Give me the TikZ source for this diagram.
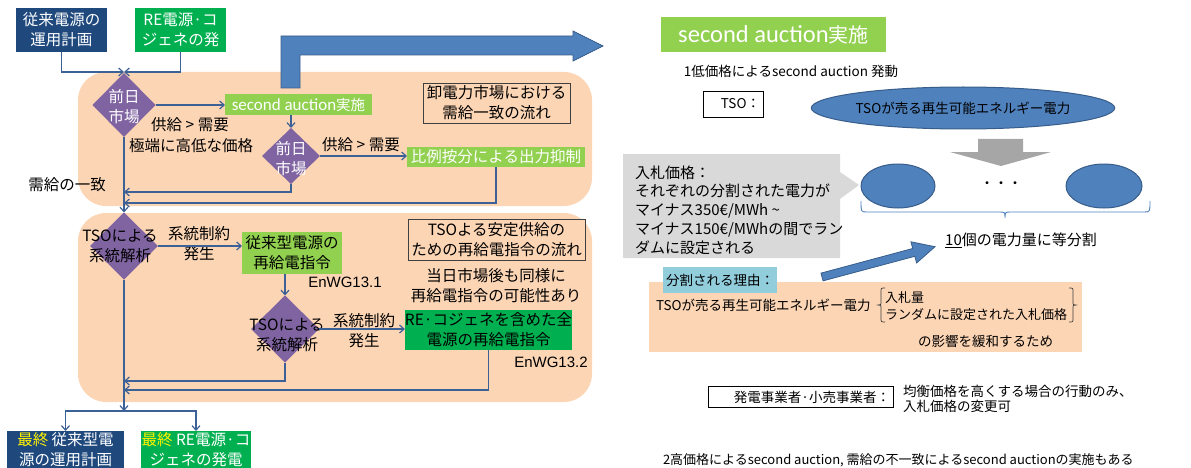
\documentclass[tikz,border=0pt]{standalone}
\usepackage{fontspec}
\setmainfont{Noto Sans CJK JP}
\newfontfamily\carlfont{Carlito}
\newfontfamily\arialfont{Liberation Sans}
\usetikzlibrary{shapes.geometric,arrows.meta}
\definecolor{dblue}{HTML}{1F497D}
\definecolor{rgreen}{HTML}{00B050}
\definecolor{lgreen}{HTML}{92D050}
\definecolor{purp}{HTML}{8064A2}
\definecolor{peach}{HTML}{FCD5B5}
\definecolor{lnblue}{HTML}{3B6196}
\definecolor{arrblue}{HTML}{4F81BD}
\definecolor{arredge}{HTML}{385D8A}
\definecolor{cgray}{HTML}{D9D9D9}
\definecolor{agray}{HTML}{A6A6A6}
\definecolor{lblue}{HTML}{92CDDC}
\definecolor{frmcol}{HTML}{404040}
\newcommand\fszL{\fontsize{15.5}{20}\selectfont}
\newcommand\fszR{\fontsize{13.5}{16}\selectfont}
\begin{document}
\begin{tikzpicture}[x=1pt,y=-1pt,
  every node/.style={inner sep=0pt, outer sep=0pt},
  fbox/.style={inner sep=0pt, align=center, font=\fszL},
  dia/.style={diamond, fill=purp, inner sep=0pt},
  conn/.style={draw=lnblue, line width=1.2pt, -{Straight Barb[length=4.5pt,width=8pt]}},
  lbl/.style={font=\fszL, align=center, text=black},
  frm/.style={draw=frmcol, line width=0.9pt, fill=peach, align=center, font=\fszL},
  rtxt/.style={font=\fszR, text=black},
]
\useasboundingbox (0,0) rectangle (1191,468);
\begin{scope}
\clip (0,0) rectangle (1191,468);
% ---------- left panel backgrounds
\fill[peach, rounded corners=28pt] (78,72) rectangle (592,206);
\fill[peach, rounded corners=28pt] (78,213) rectangle (592,402);
% big L arrow
\filldraw[fill=arrblue, draw=arredge, line width=0.8pt] (281,88) -- (281,36) -- (573,36) -- (573,31) -- (603,46) -- (573,61) -- (573,55) -- (300,55) -- (300,88) -- cycle;

% ---------- left panel nodes
\node[fbox, fill=dblue, text=white, minimum width=91pt, minimum height=44pt] (b1) at (61.5,30) {従来電源の\\運用計画};
\node[fbox, fill=rgreen, text=white, minimum width=91pt, minimum height=44pt] (b2) at (180.5,30) {RE電源·コ\\ジェネの発};
\coordinate (m1) at (124,72);
\node[dia, minimum width=63pt, minimum height=64pt] (d1) at (124,105) {};
\node[lbl, text=white] (d1t) at (124,107) {前日\\市場};
\node[fbox, fill=lgreen, text=white, minimum width=147pt, minimum height=21pt] (sa1) at (298.5,104.5) {{\carlfont\fontsize{17}{17}\selectfont second auction}{\fontsize{14.5}{17}\selectfont 実施}};
\node[lbl] (l1) at (190,125) {供給 > 需要};
\node[lbl] (l2) at (191,146) {極端に高低な価格};
\node[dia, minimum width=58pt, minimum height=56pt] (d2) at (291,156) {};
\node[lbl, text=white] (d2t) at (291,159) {前日\\市場};
\node[lbl] (l3) at (361,145) {供給 > 需要};
\node[fbox, fill=lgreen, text=white, minimum width=178pt, minimum height=20pt] (hp) at (496,157) {比例按分による出力抑制};
\node[lbl] (l0) at (67,185) {需給の一致};
\node[frm, minimum width=147pt, minimum height=40pt] (fr1) at (496.5,103) {卸電力市場における\\需給一致の流れ};
\coordinate (c1) at (124,192);
\coordinate (c2) at (124,203);

\node[dia, minimum width=68pt, minimum height=67pt] (d3) at (124,246) {};
\node[lbl] (d3t) at (120,246) {TSOによる\\系統解析};
\node[lbl] (l4) at (199,244) {系統制約\\発生};
\node[fbox, fill=lgreen, text=black, minimum width=100pt, minimum height=42pt] (jr) at (292,253) {従来型電源の\\再給電指令};
\node[lbl, font=\arialfont\fontsize{15}{18}\selectfont] (en1) at (345,282) {EnWG13.1};
\node[frm, minimum width=177pt, minimum height=41pt] (fr2) at (496.5,239.5) {TSOよる安定供給の\\ための再給電指令の流れ};
\node[lbl] (note) at (496,286) {当日市場後も同様に\\再給電指令の可能性あり};
\node[dia, minimum width=68pt, minimum height=67pt] (d4) at (285,329) {};
\node[lbl] (d4t) at (287,335) {TSOによる\\系統解析};
\node[lbl] (l5) at (364,331) {系統制約\\発生};
\node[fbox, fill=rgreen, text=black, minimum width=163pt, minimum height=40pt] (re) at (488.5,330) {RE·コジェネを含めた全\\電源の再給電指令};
\node[lbl, font=\arialfont\fontsize{15}{18}\selectfont] (en2) at (551,362) {EnWG13.2};
\coordinate (c3) at (124,381);
\coordinate (c4) at (124,390);
\coordinate (m2) at (124,411);
\node[fill=dblue, minimum width=117pt, minimum height=46pt] (f1) at (65.5,454) {};
\node[fbox, text=white, anchor=north] (f1t) at (65.5,432) {\textcolor{yellow}{最終} 従来型電\\源の運用計画};
\node[fill=rgreen, minimum width=110pt, minimum height=46pt] (f2) at (196,454) {};
\node[fbox, text=white, anchor=north] (f2t) at (196,432) {\textcolor{yellow}{最終} RE電源·コ\\ジェネの発電};

% ---------- left connectors
\draw[conn] (b1.south) |- (m1);
\draw[conn] (b2.south) |- (m1);
\draw[conn] (d1.east) -- (d1.east -| sa1.west);
\draw[conn] (sa1.south -| d2.north) -- (d2.north);
\draw[conn] (d2.east) -- (d2.east -| hp.west);
\draw[conn] (d2.south) |- (c1);
\draw[conn] (hp.south) |- (c2);
\draw[conn] (d1.south) -- (d3.north);
\draw[conn] (d3.east) -- (d3.east -| jr.west);
\draw[conn] (jr.south -| d4.north) -- (d4.north);
\draw[conn] (d4.east) -- (d4.east -| re.west);
\draw[conn] (d4.south) |- (c3);
\draw[conn] (re.south) |- (c4);
\draw[conn] (d3.south) -- (m2);
\draw[conn] (m2) -| (f1.north);
\draw[conn] (m2) -| (f2.north);

% ---------- right panel
\node[fill=lgreen, text=white, minimum width=225pt, minimum height=35pt] (sa2) at (773.5,34.5) {{\carlfont\fontsize{24.5}{26}\selectfont second auction}{\fontsize{20}{24}\selectfont 実施}};
\node[rtxt] (t1) at (791,71) {1低価格によるsecond auction 発動};
\node[draw=black, line width=0.8pt, minimum width=60pt, minimum height=26pt] (tso) at (733,104) {};
\node[rtxt, anchor=east] (tsot) at (760,104) {TSO：};
\node[ellipse, fill=arrblue, draw=arredge, line width=1pt, minimum width=270pt, minimum height=42pt, rtxt] (el1) at (963,108) {TSOが売る再生可能エネルギー電力};
\fill[agray] (978,139) -- (1023,139) -- (1023,152) -- (1051,152) -- (1001,166) -- (950,152) -- (978,152) -- cycle;
\node[ellipse, fill=arrblue, draw=arredge, line width=1pt, minimum width=74pt, minimum height=44pt] (el2) at (898,186) {};
\node[ellipse, fill=arrblue, draw=arredge, line width=1pt, minimum width=76pt, minimum height=44pt] (el3) at (1104,186) {};
\node[text=black] (dots) at (1001,185) {\fontsize{14}{14}\selectfont ・・・};
\draw[arrblue, line width=0.9pt] (861,201) .. controls (861,212) .. (867,212) -- (999,212) .. controls (1005,212) .. (1005,218) .. controls (1005,212) .. (1011,212) -- (1144,212) .. controls (1150,212) .. (1150,201);
\node[text=black, font=\fontsize{15}{18}\selectfont] (t10) at (1021,240) {\underline{10}個の電力量に等分割};

% callout
\fill[cgray] (623,154) -- (840,154) -- (840,172) -- (859,185) -- (840,199) -- (840,258) -- (623,258) -- cycle;
\node[anchor=west, align=left, text=black, font=\fontsize{15}{18.7}\selectfont] (ct) at (635,210) {入札価格：\\それぞれの分割された電力が\\マイナス350€/MWh \textasciitilde\\マイナス150€/MWhの間でラン\\ダムに設定される};

% diagonal arrow
\filldraw[fill=arrblue, draw=arredge, line width=0.8pt] (820.96,273.14) -- (912.7,248.5) -- (910.9,241.8) -- (935,246.7) -- (916.6,263.0) -- (914.8,256.3) -- (823.04,280.86) -- cycle;

% reason box
\node[fill=peach, minimum width=433pt, minimum height=70pt] (pb) at (865.5,317) {};
\node[fill=lblue, rtxt, minimum width=114pt, minimum height=26pt] (lb) at (720,280) {分割される理由：};
\node[rtxt, anchor=west] (t2) at (656,305) {TSOが売る再生可能エネルギー電力};
\draw[black!75, line width=0.7pt] (885,288) .. controls (881,288) .. (881,292) -- (881,301) .. controls (881,305) .. (878,305) .. controls (881,305) .. (881,309) -- (881,318) .. controls (881,322) .. (885,322);
\draw[black!75, line width=0.7pt] (1069,288) .. controls (1073,288) .. (1073,292) -- (1073,301) .. controls (1073,305) .. (1076,305) .. controls (1073,305) .. (1073,309) -- (1073,318) .. controls (1073,322) .. (1069,322);
\node[anchor=west, align=left, text=black, font=\fontsize{13}{17}\selectfont] (t3) at (885,306.5) {入札量\\ランダムに設定された入札価格};
\node[rtxt] (t4) at (985.5,341) {の影響を緩和するため};

% bottom
\node[draw=black, line width=0.8pt, minimum width=185pt, minimum height=21pt] (hb) at (800.5,397) {};
\node[rtxt, anchor=east] (hbt) at (890,397) {発電事業者·小売事業者：};
\node[anchor=west, align=left, text=black, font=\fontsize{13.5}{15.5}\selectfont] (t5) at (903,399) {均衡価格を高くする場合の行動のみ、\\入札価格の変更可};
\node[anchor=west, text=black, font=\fontsize{13}{16}\selectfont] (t6) at (663,460) {2高価格によるsecond auction, 需給の不一致によるsecond auctionの実施もある};
\end{scope}
\end{tikzpicture}
\end{document}
